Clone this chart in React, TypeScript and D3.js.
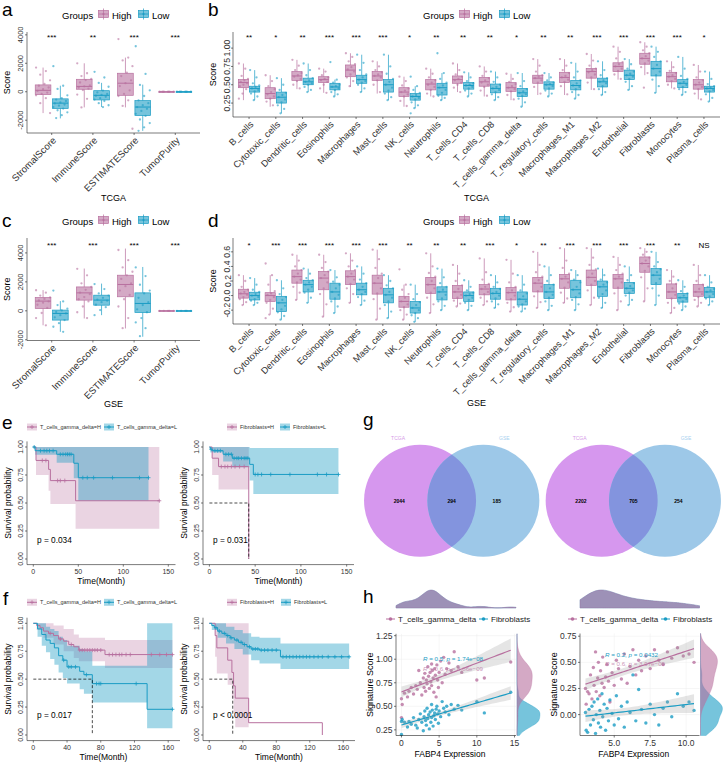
import * as d3 from 'd3'
import { useEffect, useRef } from 'react'

const HIGH = '#b8709f'
const LOW = '#1a9cc4'
const FONT = '"Liberation Sans", Arial, Helvetica, sans-serif'

// ---------- ESTIMATE scores (a: TCGA, c: GSE) ----------
const estimateCats = ['StromalScore', 'ImmuneScore', 'ESTIMATEScore', 'TumorPurity']
const estimateTicks = [-2000, 0, 2000, 4000]
// box rows: [lower whisker, q1, median, q3, upper whisker]
const tcgaEstHighBox = [[-1500, -200, 100, 480, 1700], [-1100, 175, 375, 875, 2000], [-1100, -250, 600, 1300, 2400], [0.55, 0.65, 0.72, 0.8, 0.92]]
const tcgaEstLowBox = [[-1875, -1175, -800, -500, 425], [-1075, -575, -250, 75, 625], [-2750, -1675, -1075, -625, 500], [0.6, 0.72, 0.8, 0.88, 0.96]]
const tcgaEstHighPts = [
  [1700, 1450, 1200, 800, 550, 420, 300, 180, 60, -60, -150, -250, -450, -800, -1500],
  [2000, 1300, 1100, 900, 820, 650, 450, 380, 300, 220, 120, -200, -500, -1100],
  [3700, 2400, 2200, 1800, 1350, 1100, 800, 600, 400, 100, -150, -300, -600, -1000, -2600],
  [0.55, 0.62, 0.7, 0.76, 0.82, 0.9],
]
const tcgaEstLowPts = [
  [1800, 420, 200, -250, -450, -550, -650, -750, -820, -900, -980, -1080, -1180, -1300, -1450, -1650, -1850],
  [1400, 1000, 620, 350, 80, -50, -150, -220, -280, -350, -450, -550, -650, -800, -950, -1080],
  [3200, 1250, 480, 100, -300, -600, -800, -950, -1080, -1200, -1350, -1550, -1700, -1950, -2200, -2500, -2750],
  [0.6, 0.68, 0.75, 0.82, 0.88, 0.95],
]
const tcgaEstSig = ['***', '**', '***', '***']

const gseEstHighBox = [[-1000, 160, 670, 920, 1430], [-530, 740, 1240, 1650, 2920], [-1220, 970, 1820, 2460, 4300], [0.55, 0.65, 0.72, 0.8, 0.92]]
const gseEstLowBox = [[-1450, -640, -180, 50, 670], [-300, 390, 740, 1080, 1880], [-1790, -115, 510, 1240, 3030], [0.6, 0.72, 0.8, 0.88, 0.96]]
const gseEstHighPts = [
  [1420, 1250, 1050, 920, 820, 720, 650, 560, 420, 200, -150, -500, -1000],
  [2900, 2450, 1900, 1650, 1450, 1250, 1150, 950, 800, 650, 300, -100, -500],
  [4200, 3500, 3000, 2700, 2450, 2200, 1900, 1700, 1400, 1100, 800, 300, -500, -1200],
  [0.6, 0.68, 0.75, 0.82, 0.88],
]
const gseEstLowPts = [
  [1400, 650, 400, 150, 30, -80, -180, -300, -450, -640, -850, -1100, -1450],
  [1850, 1500, 1200, 1050, 900, 780, 700, 600, 420, 250, 50, -300],
  [3000, 2400, 1800, 1400, 1200, 900, 600, 400, 100, -100, -500, -800, -1200, -1750],
  [0.6, 0.68, 0.75, 0.82, 0.88],
]
const gseEstSig = ['***', '***', '***', '***']

// ---------- immune cell signatures (b: TCGA, d: GSE) ----------
const cellCats = ['B_cells', 'Cytotoxic_cells', 'Dendritic_cells', 'Eosinophils', 'Macrophages', 'Mast_cells', 'NK_cells', 'Neutrophils', 'T_cells_CD4', 'T_cells_CD8', 'T_cells_gamma_delta', 'T_regulatory_cells', 'Macrophages_M1', 'Macrophages_M2', 'Endothelial', 'Fibroblasts', 'Monocytes', 'Plasma_cells']

const tcgaCellHighBox = [
  [0.29, 0.46, 0.53, 0.57, 0.79], [0.2, 0.31, 0.38, 0.46, 0.63], [0.44, 0.56, 0.62, 0.68, 0.84], [0.39, 0.53, 0.57, 0.61, 0.72],
  [0.47, 0.61, 0.7, 0.77, 0.93], [0.38, 0.56, 0.62, 0.68, 0.82], [0.2, 0.34, 0.4, 0.46, 0.61], [0.34, 0.43, 0.51, 0.57, 0.72],
  [0.4, 0.52, 0.57, 0.62, 0.79], [0.34, 0.48, 0.54, 0.6, 0.75], [0.29, 0.41, 0.46, 0.53, 0.65], [0.36, 0.52, 0.59, 0.63, 0.85],
  [0.36, 0.53, 0.6, 0.67, 0.85], [0.43, 0.59, 0.68, 0.72, 0.92], [0.57, 0.68, 0.75, 0.8, 1.02], [0.63, 0.78, 0.86, 0.93, 1.08],
  [0.45, 0.54, 0.61, 0.67, 0.82], [0.3, 0.44, 0.5, 0.57, 0.77],
]
const tcgaCellLowBox = [
  [0.29, 0.4, 0.45, 0.48, 0.7], [0.11, 0.25, 0.33, 0.4, 0.59], [0.4, 0.5, 0.54, 0.59, 0.79], [0.34, 0.43, 0.47, 0.52, 0.57],
  [0.4, 0.52, 0.57, 0.63, 0.91], [0.29, 0.4, 0.5, 0.57, 0.91], [0.18, 0.29, 0.34, 0.38, 0.48], [0.29, 0.36, 0.46, 0.52, 0.66],
  [0.34, 0.44, 0.49, 0.53, 0.67], [0.29, 0.39, 0.45, 0.51, 0.68], [0.2, 0.34, 0.39, 0.45, 0.66], [0.34, 0.44, 0.5, 0.54, 0.66],
  [0.31, 0.43, 0.49, 0.56, 0.8], [0.36, 0.47, 0.54, 0.59, 0.82], [0.43, 0.57, 0.63, 0.7, 0.85], [0.39, 0.62, 0.72, 0.82, 1.02],
  [0.36, 0.46, 0.52, 0.57, 0.88], [0.27, 0.4, 0.45, 0.48, 0.68],
]
const tcgaCellHighPts = [
  [0.79, 0.72, 0.62, 0.58, 0.56, 0.54, 0.52, 0.5, 0.48, 0.44, 0.38, 0.31],
  [0.63, 0.55, 0.48, 0.44, 0.4, 0.37, 0.34, 0.31, 0.27, 0.22],
  [0.84, 0.76, 0.7, 0.66, 0.63, 0.61, 0.58, 0.55, 0.5, 0.45],
  [0.72, 0.68, 0.63, 0.6, 0.58, 0.56, 0.54, 0.5, 0.45, 0.39],
  [0.93, 0.88, 0.82, 0.78, 0.74, 0.71, 0.68, 0.64, 0.6, 0.55, 0.48],
  [0.82, 0.75, 0.7, 0.67, 0.64, 0.62, 0.6, 0.56, 0.5, 0.4],
  [0.61, 0.55, 0.49, 0.45, 0.42, 0.4, 0.37, 0.34, 0.28, 0.21],
  [0.72, 0.65, 0.6, 0.56, 0.53, 0.5, 0.47, 0.43, 0.38, 0.34],
  [0.79, 0.7, 0.64, 0.61, 0.58, 0.56, 0.53, 0.5, 0.46, 0.4],
  [0.75, 0.68, 0.62, 0.59, 0.56, 0.53, 0.5, 0.47, 0.42, 0.35],
  [0.65, 0.58, 0.54, 0.51, 0.48, 0.46, 0.44, 0.41, 0.36, 0.3],
  [0.85, 0.76, 0.68, 0.63, 0.61, 0.59, 0.56, 0.53, 0.47, 0.38],
  [0.85, 0.76, 0.7, 0.66, 0.62, 0.6, 0.57, 0.54, 0.48, 0.37],
  [0.92, 0.83, 0.76, 0.72, 0.7, 0.67, 0.64, 0.6, 0.53, 0.44],
  [1.02, 0.95, 0.86, 0.81, 0.78, 0.75, 0.72, 0.69, 0.64, 0.58],
  [1.08, 1.02, 0.97, 0.93, 0.89, 0.86, 0.83, 0.79, 0.74, 0.66, 0.46],
  [0.82, 0.74, 0.69, 0.66, 0.63, 0.61, 0.58, 0.55, 0.5, 0.45],
  [0.77, 0.68, 0.6, 0.56, 0.53, 0.5, 0.47, 0.44, 0.38, 0.3],
]
const tcgaCellLowPts = [
  [0.7, 0.6, 0.52, 0.49, 0.47, 0.45, 0.43, 0.41, 0.38, 0.34, 0.29],
  [0.59, 0.5, 0.43, 0.39, 0.36, 0.33, 0.3, 0.26, 0.22, 0.17, 0.11],
  [0.79, 0.7, 0.63, 0.59, 0.56, 0.54, 0.52, 0.5, 0.47, 0.43, 0.4],
  [0.81, 0.57, 0.53, 0.5, 0.48, 0.47, 0.45, 0.43, 0.4, 0.37, 0.34],
  [0.91, 0.8, 0.7, 0.64, 0.6, 0.57, 0.55, 0.53, 0.5, 0.45, 0.4],
  [0.91, 0.75, 0.65, 0.58, 0.54, 0.5, 0.46, 0.42, 0.38, 0.33, 0.29],
  [0.61, 0.48, 0.43, 0.39, 0.36, 0.34, 0.32, 0.3, 0.26, 0.22, 0.18, 0.11],
  [0.93, 0.66, 0.58, 0.53, 0.49, 0.46, 0.43, 0.39, 0.35, 0.32, 0.29],
  [0.67, 0.6, 0.55, 0.52, 0.5, 0.49, 0.47, 0.45, 0.42, 0.38, 0.34],
  [0.68, 0.6, 0.54, 0.5, 0.47, 0.45, 0.43, 0.4, 0.37, 0.33, 0.29],
  [0.66, 0.55, 0.48, 0.44, 0.41, 0.39, 0.37, 0.35, 0.31, 0.26, 0.2],
  [0.66, 0.6, 0.56, 0.53, 0.51, 0.5, 0.48, 0.45, 0.42, 0.38, 0.34],
  [0.8, 0.68, 0.6, 0.56, 0.52, 0.49, 0.47, 0.44, 0.4, 0.36, 0.31],
  [0.82, 0.7, 0.63, 0.59, 0.56, 0.54, 0.52, 0.48, 0.44, 0.4, 0.36],
  [0.85, 0.78, 0.72, 0.68, 0.65, 0.63, 0.61, 0.58, 0.54, 0.48, 0.43],
  [1.02, 0.95, 0.88, 0.82, 0.77, 0.72, 0.68, 0.63, 0.57, 0.48, 0.39],
  [0.88, 0.72, 0.62, 0.58, 0.54, 0.52, 0.5, 0.47, 0.44, 0.4, 0.36],
  [0.68, 0.58, 0.51, 0.48, 0.46, 0.45, 0.43, 0.41, 0.37, 0.32, 0.27],
]
const tcgaCellSig = ['**', '*', '**', '***', '***', '***', '*', '**', '**', '**', '*', '**', '**', '***', '***', '***', '***', '*']

const gseCellHighBox = [
  [-0.13, -0.035, 0.025, 0.087, 0.28], [-0.26, -0.08, 0.0, 0.04, 0.28], [-0.06, 0.17, 0.26, 0.35, 0.56], [-0.29, 0.08, 0.24, 0.33, 0.56],
  [-0.1, 0.15, 0.26, 0.34, 0.58], [-0.33, 0.02, 0.17, 0.28, 0.63], [-0.33, -0.16, -0.08, -0.01, 0.15], [-0.24, 0.03, 0.15, 0.25, 0.58],
  [-0.15, -0.04, 0.05, 0.14, 0.42], [-0.13, 0.01, 0.09, 0.15, 0.51], [-0.22, -0.06, 0.04, 0.11, 0.49], [-0.17, 0.05, 0.17, 0.25, 0.6],
  [-0.1, 0.1, 0.23, 0.29, 0.65], [-0.13, 0.14, 0.25, 0.35, 0.65], [-0.2, 0.1, 0.23, 0.29, 0.53], [-0.08, 0.32, 0.44, 0.53, 0.65],
  [-0.24, -0.04, 0.05, 0.16, 0.35], [-0.15, -0.01, 0.05, 0.15, 0.42],
]
const gseCellLowBox = [
  [-0.13, -0.06, 0.0, 0.046, 0.24], [-0.33, -0.22, -0.1, -0.01, 0.21], [-0.1, 0.05, 0.15, 0.21, 0.37], [-0.24, -0.05, 0.05, 0.17, 0.35],
  [-0.13, 0.01, 0.08, 0.17, 0.4], [-0.31, -0.1, 0.01, 0.1, 0.28], [-0.36, -0.24, -0.17, -0.08, 0.15], [-0.2, -0.06, 0.05, 0.12, 0.37],
  [-0.2, -0.08, 0.0, 0.05, 0.21], [-0.17, -0.05, 0.03, 0.1, 0.28], [-0.22, -0.13, -0.05, 0.05, 0.28], [-0.2, -0.04, 0.05, 0.15, 0.4],
  [-0.2, -0.03, 0.08, 0.21, 0.35], [-0.17, -0.01, 0.12, 0.2, 0.37], [-0.13, 0.03, 0.1, 0.18, 0.4], [-0.13, 0.15, 0.28, 0.37, 0.6],
  [-0.2, -0.09, -0.03, 0.03, 0.21], [-0.13, -0.03, 0.05, 0.11, 0.28],
]
const gseCellHighPts = [
  [0.28, 0.2, 0.12, 0.08, 0.05, 0.03, 0.01, -0.02, -0.05, -0.09, -0.13],
  [0.44, 0.28, 0.15, 0.06, 0.03, 0.01, -0.02, -0.06, -0.1, -0.18, -0.26, -0.31],
  [0.56, 0.48, 0.4, 0.35, 0.3, 0.26, 0.22, 0.18, 0.12, 0.04, -0.06],
  [0.56, 0.46, 0.38, 0.33, 0.28, 0.24, 0.18, 0.1, 0.02, -0.12, -0.29],
  [0.58, 0.48, 0.4, 0.35, 0.3, 0.26, 0.22, 0.16, 0.1, 0.02, -0.1],
  [0.63, 0.5, 0.38, 0.3, 0.24, 0.17, 0.1, 0.03, -0.05, -0.18, -0.33],
  [0.36, 0.15, 0.08, 0.02, -0.03, -0.08, -0.12, -0.16, -0.2, -0.26, -0.33],
  [0.58, 0.4, 0.31, 0.26, 0.2, 0.15, 0.1, 0.04, -0.03, -0.12, -0.24],
  [0.42, 0.3, 0.2, 0.14, 0.09, 0.05, 0.01, -0.03, -0.07, -0.11, -0.15],
  [0.51, 0.32, 0.22, 0.16, 0.12, 0.09, 0.05, 0.02, -0.03, -0.08, -0.13],
  [0.49, 0.3, 0.18, 0.12, 0.07, 0.04, 0.0, -0.05, -0.1, -0.16, -0.22],
  [0.6, 0.42, 0.32, 0.26, 0.21, 0.17, 0.12, 0.06, -0.01, -0.09, -0.17],
  [0.65, 0.48, 0.38, 0.3, 0.26, 0.23, 0.18, 0.11, 0.04, -0.04, -0.1],
  [0.65, 0.52, 0.42, 0.36, 0.3, 0.25, 0.2, 0.15, 0.07, -0.03, -0.13],
  [0.53, 0.42, 0.35, 0.3, 0.26, 0.23, 0.18, 0.11, 0.03, -0.08, -0.2],
  [0.65, 0.6, 0.56, 0.52, 0.48, 0.44, 0.4, 0.34, 0.25, 0.1, -0.08],
  [0.35, 0.26, 0.2, 0.16, 0.1, 0.05, 0.01, -0.04, -0.1, -0.17, -0.24],
  [0.42, 0.28, 0.2, 0.15, 0.09, 0.05, 0.02, -0.02, -0.06, -0.1, -0.15],
]
const gseCellLowPts = [
  [0.24, 0.15, 0.08, 0.05, 0.02, 0.0, -0.02, -0.05, -0.07, -0.1, -0.13],
  [0.21, 0.1, 0.02, -0.02, -0.06, -0.1, -0.14, -0.19, -0.23, -0.28, -0.33],
  [0.37, 0.3, 0.24, 0.21, 0.18, 0.15, 0.12, 0.08, 0.04, -0.03, -0.1],
  [0.35, 0.25, 0.19, 0.15, 0.1, 0.05, 0.01, -0.04, -0.08, -0.15, -0.24],
  [0.4, 0.3, 0.22, 0.17, 0.12, 0.08, 0.05, 0.02, -0.02, -0.07, -0.13],
  [0.28, 0.2, 0.14, 0.1, 0.05, 0.01, -0.03, -0.08, -0.13, -0.22, -0.31],
  [0.15, 0.02, -0.05, -0.09, -0.13, -0.17, -0.2, -0.24, -0.27, -0.31, -0.36],
  [0.37, 0.25, 0.17, 0.12, 0.08, 0.05, 0.01, -0.04, -0.08, -0.14, -0.2],
  [0.21, 0.12, 0.07, 0.04, 0.02, 0.0, -0.03, -0.06, -0.1, -0.14, -0.2],
  [0.28, 0.18, 0.12, 0.09, 0.05, 0.03, 0.0, -0.04, -0.08, -0.12, -0.17],
  [0.28, 0.15, 0.07, 0.03, -0.01, -0.05, -0.08, -0.12, -0.15, -0.18, -0.22],
  [0.4, 0.28, 0.2, 0.15, 0.1, 0.05, 0.01, -0.03, -0.08, -0.14, -0.2],
  [0.35, 0.28, 0.22, 0.18, 0.12, 0.08, 0.03, -0.02, -0.06, -0.12, -0.2],
  [0.37, 0.28, 0.22, 0.18, 0.15, 0.12, 0.07, 0.02, -0.03, -0.1, -0.17],
  [0.4, 0.28, 0.21, 0.17, 0.13, 0.1, 0.07, 0.04, 0.0, -0.06, -0.13],
  [0.6, 0.46, 0.4, 0.36, 0.32, 0.28, 0.23, 0.17, 0.1, 0.0, -0.13],
  [0.21, 0.12, 0.06, 0.03, 0.0, -0.03, -0.05, -0.08, -0.11, -0.15, -0.2],
  [0.28, 0.18, 0.12, 0.09, 0.07, 0.05, 0.02, -0.01, -0.04, -0.08, -0.13],
]
const gseCellSig = ['*', '***', '***', '***', '***', '***', '**', '**', '**', '***', '*', '**', '***', '***', '***', '***', '**', 'NS']

// ---------- survival (e, f): steps [month, survival], bands [month, lower, upper] ----------
const eTgdHighSurv = [[0, 1], [3, 0.88], [17, 0.8], [19, 0.7], [47, 0.52], [140, 0.52]]
const eTgdHighBand = [[0, 1, 1], [3, 0.75, 1], [17, 0.61, 1], [19, 0.49, 1], [47, 0.27, 1], [140, 0.27, 1]]
const eTgdHighCens = [10, 14, 27, 30, 35, 140]
const eTgdLowSurv = [[0, 1], [2, 0.967], [26, 0.935], [45, 0.855], [50, 0.726], [128, 0.726]]
const eTgdLowBand = [[0, 1, 1], [2, 0.93, 1], [26, 0.86, 1], [45, 0.72, 1], [50, 0.52, 1], [128, 0.52, 1]]
const eTgdLowCens = [1, 8, 12, 15, 18, 22, 30, 33, 36, 38, 40, 42, 55, 60, 67, 88, 118, 128]

const eFibHighSurv = [[0, 1], [3, 0.9], [10, 0.825], [43, 0]]
const eFibHighBand = [[0, 1, 1], [3, 0.75, 1], [10, 0.62, 1], [43, 0.62, 1]]
const eFibHighCens = [13, 17, 20, 24, 28, 33, 38]
const eFibLowSurv = [[0, 1], [1, 0.98], [3, 0.967], [15, 0.935], [25, 0.9], [44, 0.845], [48, 0.755], [141, 0.755]]
const eFibLowBand = [[0, 1, 1], [1, 0.95, 1], [15, 0.87, 1], [25, 0.82, 1], [44, 0.7, 0.99], [48, 0.58, 0.99], [141, 0.58, 0.99]]
const eFibLowCens = [2, 6, 9, 12, 18, 21, 24, 27, 30, 32, 35, 38, 40, 42, 50, 53, 57, 67, 88, 118, 128, 141]

const fTgdHighSurv = [[0, 1], [4, 0.98], [8, 0.96], [12, 0.93], [18, 0.91], [24, 0.89], [30, 0.86], [36, 0.84], [42, 0.81], [48, 0.79], [54, 0.76], [85, 0.72], [165, 0.72]]
const fTgdHighBand = [[0, 1, 1], [4, 0.94, 1], [12, 0.87, 1], [24, 0.81, 0.98], [36, 0.75, 0.95], [48, 0.69, 0.9], [54, 0.66, 0.87], [85, 0.6, 0.85], [165, 0.6, 0.85]]
const fTgdHighCens = [20, 32, 45, 55, 58, 61, 64, 67, 70, 73, 76, 80, 90, 94, 98, 102, 105, 110, 115, 140, 150, 158, 165]
const fTgdLowSurv = [[0, 1], [5, 0.95], [10, 0.9], [15, 0.85], [20, 0.82], [25, 0.78], [30, 0.71], [35, 0.67], [40, 0.61], [55, 0.57], [60, 0.54], [70, 0.46], [135, 0.23], [165, 0.23]]
const fTgdLowBand = [[0, 1, 1], [5, 0.88, 1], [10, 0.8, 1], [15, 0.74, 0.97], [20, 0.68, 0.95], [25, 0.63, 0.93], [30, 0.56, 0.88], [35, 0.51, 0.85], [40, 0.46, 0.8], [55, 0.41, 0.77], [60, 0.37, 0.75], [70, 0.29, 0.62], [135, 0.06, 1], [165, 0.06, 1]]
const fTgdLowCens = [36, 42, 45, 50, 63, 75, 78, 80, 122, 165]

const fFibHighSurv = [[0, 1], [7, 0.89], [9, 0.78], [22, 0.67], [27, 0.56], [29, 0.44], [31, 0.33], [47, 0.11], [135, 0]]
const fFibHighBand = [[0, 1, 1], [7, 0.7, 1], [9, 0.55, 1], [22, 0.45, 1], [27, 0.33, 1], [29, 0.2, 1], [31, 0.07, 1], [47, 0.07, 1]]
const fFibHighCens: number[] = []
const fFibLowSurv = [[0, 1], [3, 0.98], [6, 0.96], [10, 0.93], [15, 0.91], [20, 0.89], [25, 0.87], [30, 0.85], [35, 0.83], [40, 0.81], [45, 0.79], [50, 0.77], [60, 0.76], [85, 0.7], [167, 0.7]]
const fFibLowBand = [[0, 1, 1], [3, 0.94, 1], [10, 0.87, 1], [20, 0.82, 0.97], [30, 0.77, 0.94], [40, 0.72, 0.91], [50, 0.67, 0.88], [60, 0.64, 0.87], [85, 0.59, 0.82], [167, 0.59, 0.82]]
const fFibLowCens = [8, 12, 18, 22, 26, 33, 38, 42, 48, 52, 55, 58, 62, 66, 70, 75, 80, 88, 92, 96, 100, 104, 108, 112, 116, 120, 125, 130, 135, 142, 150, 158, 167]

// ---------- overlap counts (g): [TCGA only, both, GSE only] ----------
const vennSetNames = ['TCGA', 'GSE']
const vennLeftCounts = [2044, 294, 185]
const vennRightCounts = [2202, 705, 254]

// ---------- FABP4 vs signature scores (h): [FABP4, T_cells_gamma_delta, Fibroblasts] ----------
const scatterLeftRows = [
  [0, 0.58, 0.34], [0, 0.38, 0.2], [0.1, 0.52, 0.36], [0.4, 0.64, 0.33], [0.8, 0.6, 0.28], [1.0, 0.66, 0.34], [1.3, 0.7, 0.31],
  [1.6, 0.63, 0.38], [1.9, 0.72, 0.3], [2.1, 0.68, 0.27], [2.3, 0.88, 0.36], [2.5, 0.75, 0.42], [2.7, 0.62, 0.33], [2.9, 0.8, 0.24],
  [3.0, 0.7, 0.39], [3.1, 0.85, 0.45], [3.2, 0.66, 0.35], [3.3, 0.78, 0.3], [3.4, 0.74, 0.48], [3.5, 0.92, 0.37], [3.6, 0.82, 0.41],
  [3.7, 0.69, 0.26], [3.8, 0.86, 0.44], [3.9, 0.76, 0.33], [4.0, 0.95, 0.52], [4.0, 0.72, 0.38], [4.1, 0.88, 0.46], [4.2, 0.8, 0.29],
  [4.3, 0.65, 0.4], [4.4, 0.9, 0.43], [4.5, 0.83, 0.36], [4.6, 0.6, 0.47], [4.7, 0.94, 0.5], [4.8, 0.78, 0.42], [4.9, 0.7, 0.32],
  [5.0, 0.86, 0.45], [5.2, 0.98, 0.39], [5.4, 0.75, 0.55], [5.6, 1.02, 0.48], [5.8, 0.84, 0.44], [6.0, 0.9, 0.5], [6.3, 0.96, 0.41],
  [6.6, 0.88, 0.52], [7.0, 1.08, 0.47], [7.5, 0.92, 0.51], [8.0, 0.86, 0.46], [10.0, 0.78, 0.55], [11.0, 0.8, 0.43], [14.5, 0.97, 0.65],
]
const scatterRightRows = [
  [3.0, 0.25, 0.02], [3.05, 0.1, -0.15], [3.15, 0.22, -0.17], [3.25, 0.2, 0.05], [3.35, 0.38, -0.1], [3.45, 0.15, 0.08], [3.55, 0.45, -0.05],
  [3.6, 0.28, 0.12], [3.7, 0.6, -0.18], [3.75, 0.22, 0.0], [3.85, 0.35, 0.15], [3.9, 0.5, -0.08], [4.0, 0.18, 0.04], [4.05, 0.42, -0.12],
  [4.15, 0.3, 0.2], [4.2, 0.55, -0.02], [4.3, 0.26, 0.1], [4.4, 0.36, -0.15], [4.5, 0.48, 0.06], [4.6, 0.32, -0.06], [4.7, 0.12, 0.14],
  [4.85, 0.4, 0.01], [5.0, 0.28, -0.1], [5.15, 0.52, 0.18], [5.3, 0.44, -0.04], [5.5, 0.34, 0.08], [5.7, 0.58, -0.12], [5.9, 0.3, 0.12],
  [6.1, 0.46, 0.02], [6.3, 0.62, 0.38], [6.5, 0.38, -0.06], [6.7, 0.52, 0.24], [6.9, 0.42, 0.05], [7.2, 0.56, -0.08], [7.5, 0.44, 0.1],
  [7.8, 0.62, 0.0], [8.1, 0.52, -0.1], [8.4, 0.48, 0.06], [8.7, 0.6, 0.12], [9.0, 0.54, -0.02], [9.4, 0.64, 0.2], [9.8, 0.56, 0.08],
  [10.2, 0.58, 0.12], [10.55, 0.5, 0.04],
]
const scatterGroups = ['T_cells_gamma_delta', 'Fibroblasts']
const scatterLeftStats = ['R = 0.6, p = 8.86e\u221209', 'R = 0.5, p = 1.74e\u221208']
const scatterRightStats = ['R = 0.6, p = 3.97e\u221209', 'R = 0.2, p = 0.0432']

// ---------------------------------------------------------------

function txt(g: any, x: number, y: number, s: string, size: number, opts: any = {}) {
  const t = g.append('text').attr('x', x).attr('y', y).attr('font-size', size).attr('font-family', FONT)
    .attr('fill', opts.fill || '#000').attr('text-anchor', opts.anchor || 'start').text(s)
  if (opts.rotate !== undefined) t.attr('transform', `rotate(${opts.rotate},${x},${y})`)
  if (opts.weight) t.attr('font-weight', opts.weight)
  return t
}

function groupsLegend(svg: any, x: number, y: number) {
  const g = svg.append('g')
  txt(g, x, y, 'Groups', 9.5)
  ;[[HIGH, 'High', 35], [LOW, 'Low', 75]].forEach(([c, lab, dx]: any) => {
    const kx = x + dx
    g.append('line').attr('x1', kx + 6.5).attr('x2', kx + 6.5).attr('y1', y - 10).attr('y2', y + 1).attr('stroke', c).attr('stroke-width', 0.7)
    g.append('rect').attr('x', kx + 1.5).attr('y', y - 8).attr('width', 10).attr('height', 7)
      .attr('fill', c).attr('fill-opacity', 0.6).attr('stroke', c).attr('stroke-width', 0.7)
    g.append('line').attr('x1', kx + 1.5).attr('x2', kx + 11.5).attr('y1', y - 4.5).attr('y2', y - 4.5).attr('stroke', c).attr('stroke-width', 0.8)
    g.append('circle').attr('cx', kx + 6.5).attr('cy', y - 4.5).attr('r', 1.1).attr('fill', c)
    txt(g, kx + 15, y, lab, 9.5)
  })
}

function boxPanel(svg: any, p: any) {
  const x = d3.scalePoint<string>().domain(p.cats).range([p.x0, p.x1]).padding(0.6)
  const step = x.step()
  const y = d3.scaleLinear().domain(p.domain).range([p.yBot, p.yTop])
  const g = svg.append('g')
  const bw = step * 0.38
  const sets = [
    { box: p.hiBox, pts: p.hiPts, color: HIGH, off: -0.21 },
    { box: p.loBox, pts: p.loPts, color: LOW, off: 0.21 },
  ]
  sets.forEach((s) => {
    p.cats.forEach((c: string, i: number) => {
      const cx = (x(c) as number) + s.off * step
      const [lo, q1, md, q3, hi] = s.box[i]
      g.append('line').attr('x1', cx).attr('x2', cx).attr('y1', y(hi)).attr('y2', y(q3)).attr('stroke', s.color).attr('stroke-width', 0.7)
      g.append('line').attr('x1', cx).attr('x2', cx).attr('y1', y(q1)).attr('y2', y(lo)).attr('stroke', s.color).attr('stroke-width', 0.7)
      g.append('rect').attr('x', cx - bw / 2).attr('y', y(q3)).attr('width', bw).attr('height', Math.max(0.6, y(q1) - y(q3)))
        .attr('fill', s.color).attr('fill-opacity', 0.6).attr('stroke', s.color).attr('stroke-width', 0.7)
      g.append('line').attr('x1', cx - bw / 2).attr('x2', cx + bw / 2).attr('y1', y(md)).attr('y2', y(md)).attr('stroke', s.color).attr('stroke-width', 1)
    })
  })
  sets.forEach((s) => {
    p.cats.forEach((c: string, i: number) => {
      const cx = (x(c) as number) + s.off * step
      s.pts[i].forEach((v: number, k: number) => {
        const jit = ((k * 7) % 11) / 10 - 0.5
        g.append('circle').attr('cx', cx + jit * step * 0.34).attr('cy', y(v)).attr('r', 1.15)
          .attr('fill', s.color).attr('fill-opacity', 0.6)
      })
    })
  })

  // axes
  const ax = svg.append('g')
  ax.append('line').attr('x1', p.x0).attr('x2', p.x0).attr('y1', p.yTop).attr('y2', p.yBot).attr('stroke', '#222').attr('stroke-width', 0.6)
  ax.append('line').attr('x1', p.x0).attr('x2', p.x1).attr('y1', p.yBot).attr('y2', p.yBot).attr('stroke', '#222').attr('stroke-width', 0.6)
  p.ticks.forEach((t: number) => {
    ax.append('line').attr('x1', p.x0 - 2).attr('x2', p.x0).attr('y1', y(t)).attr('y2', y(t)).attr('stroke', '#222').attr('stroke-width', 0.6)
    txt(ax, p.x0 - p.tickGap, y(t), p.fmt(t), p.ySize, { anchor: 'middle', rotate: -90, fill: '#333' })
  })
  p.cats.forEach((c: string, i: number) => {
    const cx = x(c) as number
    ax.append('line').attr('x1', cx).attr('x2', cx).attr('y1', p.yBot).attr('y2', p.yBot + 2).attr('stroke', '#222').attr('stroke-width', 0.6)
    const t = txt(ax, cx + 3, p.yBot + 6, c, p.xSize, { anchor: 'end', rotate: -45, fill: '#333' })
    t.attr('dy', '0.3em')
    txt(ax, cx, p.sigY, p.sig[i], 8, { anchor: 'middle' })
  })
  txt(ax, p.labelX, (p.yTop + p.yBot) / 2, 'Score', 9, { anchor: 'middle', rotate: -90 })
  txt(ax, (p.x0 + p.x1) / 2, p.titleY, p.title, 9, { anchor: 'middle' })
}

function survAt(surv: number[][], t: number) {
  let v = surv[0][1]
  surv.forEach(([tt, s]) => { if (tt <= t) v = s })
  return v
}

function kmPanel(svg: any, p: any) {
  const x = d3.scaleLinear().domain(p.tDomain).range([p.x0, p.x1])
  const y = d3.scaleLinear().domain([0, 1]).range([p.y0, p.y1])
  const g = svg.append('g')
  const area = d3.area<number[]>().x((d) => x(d[0])).y0((d) => y(d[1])).y1((d) => y(d[2])).curve(d3.curveStepAfter)
  const line = d3.line<number[]>().x((d) => x(d[0])).y((d) => y(d[1])).curve(d3.curveStepAfter)
  p.curves.forEach((c: any) => {
    g.append('path').attr('d', area(c.band)).attr('fill', c.color).attr('fill-opacity', c.alpha)
  })
  p.curves.forEach((c: any) => {
    g.append('path').attr('d', line(c.surv)).attr('fill', 'none').attr('stroke', c.color).attr('stroke-width', 1)
    c.cens.forEach((t: number) => {
      const cx = x(t), cy = y(survAt(c.surv, t))
      g.append('path').attr('d', `M${cx - 2},${cy}H${cx + 2}M${cx},${cy - 2}V${cy + 2}`).attr('stroke', c.color).attr('stroke-width', 0.8)
    })
  })
  if (p.median !== null) {
    g.append('path').attr('d', `M${x(0)},${y(0.5)}H${x(p.median)}V${y(0)}`).attr('fill', 'none')
      .attr('stroke', '#000').attr('stroke-width', 0.7).attr('stroke-dasharray', '3,2')
  }
  // axes
  const yLo = y(-0.05), yHi = y(1.05)
  g.append('line').attr('x1', p.x0).attr('x2', p.x0).attr('y1', yHi).attr('y2', yLo).attr('stroke', '#222').attr('stroke-width', 0.6)
  g.append('line').attr('x1', p.x0).attr('x2', p.x1).attr('y1', yLo).attr('y2', yLo).attr('stroke', '#222').attr('stroke-width', 0.6)
  ;[0, 0.25, 0.5, 0.75, 1].forEach((t) => {
    g.append('line').attr('x1', p.x0 - 2).attr('x2', p.x0).attr('y1', y(t)).attr('y2', y(t)).attr('stroke', '#222').attr('stroke-width', 0.6)
    txt(g, p.x0 - 4, y(t), d3.format('.2f')(t), 7, { anchor: 'middle', rotate: -90, fill: '#333' })
  })
  p.tTicks.forEach((t: number) => {
    g.append('line').attr('x1', x(t)).attr('x2', x(t)).attr('y1', yLo).attr('y2', yLo + 2).attr('stroke', '#222').attr('stroke-width', 0.6)
    txt(g, x(t), yLo + 9.5, String(t), 7, { anchor: 'middle', fill: '#333' })
  })
  txt(g, p.x0 - 16, (y(0) + y(1)) / 2, 'Survival probability', 8.5, { anchor: 'middle', rotate: -90 })
  txt(g, (p.x0 + p.x1) / 2, yLo + 19, 'Time(Month)', 8.5, { anchor: 'middle' })
  txt(g, p.x0 + 10, p.pY, p.pText, 8.3)
  // legend
  p.curves.forEach((c: any, i: number) => {
    const kx = p.legX[i], ly = p.legY
    g.append('rect').attr('x', kx).attr('y', ly - 3.5).attr('width', 10).attr('height', 7).attr('fill', c.color).attr('fill-opacity', c.alpha)
    g.append('line').attr('x1', kx).attr('x2', kx + 10).attr('y1', ly).attr('y2', ly).attr('stroke', c.color).attr('stroke-width', 1)
    g.append('path').attr('d', `M${kx + 3},${ly}H${kx + 7}M${kx + 5},${ly - 2}V${ly + 2}`).attr('stroke', c.color).attr('stroke-width', 0.8)
    txt(g, kx + 13, ly + 2, c.label, 5.5, { fill: '#333' })
  })
}

function venn(svg: any, cx: number, cy: number, r: number, d: number, counts: number[]) {
  const id = 'lens' + Math.round(cx)
  const g = svg.append('g')
  const ax = cx - d / 2, bx = cx + d / 2
  g.append('clipPath').attr('id', id).append('circle').attr('cx', ax).attr('cy', cy).attr('r', r)
  g.append('circle').attr('cx', ax).attr('cy', cy).attr('r', r).attr('fill', '#d697ee')
  g.append('circle').attr('cx', bx).attr('cy', cy).attr('r', r).attr('fill', '#9dc8e8')
  g.append('circle').attr('cx', bx).attr('cy', cy).attr('r', r).attr('fill', '#8394de').attr('clip-path', `url(#${id})`)
  txt(g, ax - 22, cy - r - 5, vennSetNames[0], 5, { anchor: 'middle', fill: '#d69be8' })
  txt(g, bx + 21, cy - r - 5, vennSetNames[1], 5, { anchor: 'middle', fill: '#a8d0ef' })
  txt(g, ax - 0.37 * r, cy + 1.8, String(counts[0]), 5, { anchor: 'middle', weight: 'bold' })
  txt(g, cx, cy + 1.8, String(counts[1]), 5, { anchor: 'middle', weight: 'bold' })
  txt(g, bx + 0.24 * r, cy + 1.8, String(counts[2]), 5, { anchor: 'middle', weight: 'bold' })
}

function kde(values: number[], grid: number[]) {
  const s = [...values].sort((a, b) => a - b)
  const iqr = ((d3.quantile(s, 0.75) as number) - (d3.quantile(s, 0.25) as number)) / 1.34
  const bw = 0.9 * Math.min(d3.deviation(s) as number, iqr) * Math.pow(s.length, -0.2)
  return grid.map((t) => [t, (d3.mean(s, (v) => Math.exp(-0.5 * ((t - v) / bw) ** 2)) as number) / (bw * Math.sqrt(2 * Math.PI))])
}

function fit(xs: number[], ys: number[], grid: number[]) {
  const n = xs.length, mx = d3.mean(xs) as number, my = d3.mean(ys) as number
  let sxx = 0, sxy = 0
  xs.forEach((v, i) => { sxx += (v - mx) ** 2; sxy += (v - mx) * (ys[i] - my) })
  const b = sxy / sxx, a = my - b * mx
  let sse = 0
  xs.forEach((v, i) => { sse += (ys[i] - a - b * v) ** 2 })
  const se = Math.sqrt(sse / (n - 2))
  return grid.map((v) => {
    const f = a + b * v, w = 2.01 * se * Math.sqrt(1 / n + (v - mx) ** 2 / sxx)
    return [v, f, f - w, f + w]
  })
}

function scatterPanel(svg: any, p: any) {
  const x = d3.scaleLinear().domain(p.xDomain).range([p.x0, p.x1])
  const y = d3.scaleLinear().domain(p.yDomain).range([p.yBot, p.yTop])
  const g = svg.append('g')
  const colors = [HIGH, LOW]
  const xs = p.rows.map((r: number[]) => r[0])
  // grid
  p.xTicks.forEach((t: number) => g.append('line').attr('x1', x(t)).attr('x2', x(t)).attr('y1', p.yTop).attr('y2', p.yBot).attr('stroke', '#ececec').attr('stroke-width', 0.5))
  p.yTicks.forEach((t: number) => g.append('line').attr('x1', p.x0).attr('x2', p.x1).attr('y1', y(t)).attr('y2', y(t)).attr('stroke', '#ececec').attr('stroke-width', 0.5))

  // marginal densities
  const xGrid = d3.range(61).map((i) => p.xDomain[0] + ((p.xDomain[1] - p.xDomain[0]) * i) / 60)
  const yGrid = d3.range(61).map((i) => p.yDomain[0] + ((p.yDomain[1] - p.yDomain[0]) * i) / 60)
  const topD = kde(xs, xGrid)
  const topMax = d3.max(topD, (d) => d[1]) as number
  const top = d3.area<number[]>().x((d) => x(d[0])).y0(p.topBase).y1((d) => p.topBase - (d[1] / topMax) * 18).curve(d3.curveBasis)
  ;[1, 0].forEach((k) => {
    g.append('path').attr('d', top(topD)).attr('fill', colors[k]).attr('fill-opacity', 0.6)
      .attr('stroke', colors[k]).attr('stroke-opacity', 0.6).attr('stroke-width', 0.5)
  })
  const sideD = [1, 2].map((k) => kde(p.rows.map((r: number[]) => r[k]), yGrid))
  const sideMax = d3.max(sideD.flat(), (d) => d[1]) as number
  const side = d3.area<number[]>().y((d) => y(d[0])).x0(p.sideBase).x1((d) => p.sideBase + (d[1] / sideMax) * p.sideW).curve(d3.curveBasis)
  ;[1, 0].forEach((k) => {
    g.append('path').attr('d', side(sideD[k])).attr('fill', colors[k]).attr('fill-opacity', 0.6)
      .attr('stroke', colors[k]).attr('stroke-opacity', 0.6).attr('stroke-width', 0.5)
  })

  // points, fits
  const lineGrid = d3.range(41).map((i) => (d3.min(xs) as number) + (((d3.max(xs) as number) - (d3.min(xs) as number)) * i) / 40)
  const fits = [1, 2].map((k) => fit(xs, p.rows.map((r: number[]) => r[k]), lineGrid))
  ;[0, 1].forEach((k) => {
    p.rows.forEach((r: number[]) => {
      g.append('circle').attr('cx', x(r[0])).attr('cy', y(r[k + 1])).attr('r', 1.7).attr('fill', colors[k]).attr('fill-opacity', 0.8)
    })
  })
  const band = d3.area<number[]>().x((d) => x(d[0])).y0((d) => y(d[2])).y1((d) => y(d[3]))
  const fl = d3.line<number[]>().x((d) => x(d[0])).y((d) => y(d[1]))
  fits.forEach((f, k) => {
    g.append('path').attr('d', band(f)).attr('fill', '#999').attr('fill-opacity', 0.25)
    g.append('path').attr('d', fl(f)).attr('fill', 'none').attr('stroke', colors[k]).attr('stroke-width', 1.2)
  })
  // correlation labels
  ;[1, 0].forEach((k) => {
    const parts = p.stats[k].split(', ')
    const t = g.append('text').attr('x', p.statX).attr('y', p.statY[k]).attr('font-size', 6.2).attr('font-family', FONT)
      .attr('fill', colors[k]).attr('fill-opacity', k === 0 ? 0.75 : 1)
    t.append('tspan').attr('font-style', 'italic').text('R')
    t.append('tspan').text(parts[0].slice(1) + ', ')
    t.append('tspan').attr('font-style', 'italic').text('p')
    t.append('tspan').text(parts[1].slice(1))
  })

  // axes
  g.append('line').attr('x1', p.x0).attr('x2', p.x0).attr('y1', p.yTop).attr('y2', p.yBot).attr('stroke', '#222').attr('stroke-width', 0.6)
  g.append('line').attr('x1', p.x0).attr('x2', p.x1).attr('y1', p.yBot).attr('y2', p.yBot).attr('stroke', '#222').attr('stroke-width', 0.6)
  p.yTicks.forEach((t: number) => {
    g.append('line').attr('x1', p.x0 - 2).attr('x2', p.x0).attr('y1', y(t)).attr('y2', y(t)).attr('stroke', '#222').attr('stroke-width', 0.6)
    txt(g, p.x0 - 3.5, y(t) + 3, p.fmtY(t), 8.5, { anchor: 'end', fill: '#333' })
  })
  p.xTicks.forEach((t: number) => {
    g.append('line').attr('x1', x(t)).attr('x2', x(t)).attr('y1', p.yBot).attr('y2', p.yBot + 2).attr('stroke', '#222').attr('stroke-width', 0.6)
    txt(g, x(t), p.yBot + 10.5, p.fmtX(t), 8.5, { anchor: 'middle', fill: '#333' })
  })
  txt(g, p.x0 - 23, (p.yTop + p.yBot) / 2, 'Signature Score', 9, { anchor: 'middle', rotate: -90 })
  txt(g, (p.x0 + p.x1) / 2 - 6, p.yBot + 21.5, 'FABP4 Expression', 8.5, { anchor: 'middle' })
  // legend
  scatterGroups.forEach((lab, k) => {
    const kx = p.legX[k], ly = 619
    g.append('line').attr('x1', kx).attr('x2', kx + 9).attr('y1', ly).attr('y2', ly).attr('stroke', colors[k]).attr('stroke-width', 1)
    g.append('circle').attr('cx', kx + 4.5).attr('cy', ly).attr('r', 1.8).attr('fill', colors[k])
    txt(g, kx + 12, ly + 3, lab, 8, { fill: '#222' })
  })
}

export default function App() {
  const ref = useRef<SVGSVGElement>(null)

  useEffect(() => {
    const svg = d3.select(ref.current)
    svg.selectAll('*').remove()
    svg.append('rect').attr('width', 723).attr('height', 763).attr('fill', '#fff')

    const panelLabels: [string, number, number][] = [
      ['a', 2, 15.5], ['b', 208, 15.5], ['c', 2, 227], ['d', 208, 227],
      ['e', 2, 428.5], ['g', 363, 426], ['f', 3, 605], ['h', 363, 603],
    ]
    panelLabels.forEach(([l, x, y]) => txt(svg, x, y, l, 19))

    groupsLegend(svg, 62, 18.5)
    groupsLegend(svg, 423, 18.5)
    groupsLegend(svg, 62, 224.5)
    groupsLegend(svg, 423, 224.5)

    const fmtK = (t: number) => String(t)
    const fmt2 = d3.format('.2f')
    const fmt1 = (t: number) => (t === 0 ? '0.0' : t < 0 ? '-' + Math.abs(t).toFixed(1) : t.toFixed(1))

    boxPanel(svg, {
      cats: estimateCats, hiBox: tcgaEstHighBox, loBox: tcgaEstLowBox, hiPts: tcgaEstHighPts, loPts: tcgaEstLowPts,
      sig: tcgaEstSig, x0: 27, x1: 200, yTop: 32, yBot: 133, domain: [-2900, 4200], ticks: estimateTicks, fmt: fmtK,
      ySize: 7.5, xSize: 9.6, tickGap: 4, sigY: 40, labelX: 9.5, title: 'TCGA', titleY: 201,
    })
    boxPanel(svg, {
      cats: cellCats, hiBox: tcgaCellHighBox, loBox: tcgaCellLowBox, hiPts: tcgaCellHighPts, loPts: tcgaCellLowPts,
      sig: tcgaCellSig, x0: 233, x1: 720, yTop: 32, yBot: 117, domain: [0.06, 1.22], ticks: [0.25, 0.5, 0.75, 1.0], fmt: fmt2,
      ySize: 8.6, xSize: 9.3, tickGap: 2.5, sigY: 40, labelX: 216, title: 'TCGA', titleY: 200.5,
    })
    boxPanel(svg, {
      cats: estimateCats, hiBox: gseEstHighBox, loBox: gseEstLowBox, hiPts: gseEstHighPts, loPts: gseEstLowPts,
      sig: gseEstSig, x0: 27, x1: 200, yTop: 238, yBot: 340.5, domain: [-2050, 5030], ticks: estimateTicks, fmt: fmtK,
      ySize: 7.5, xSize: 9.6, tickGap: 4, sigY: 247.5, labelX: 9.5, title: 'GSE', titleY: 406.5,
    })
    boxPanel(svg, {
      cats: cellCats, hiBox: gseCellHighBox, loBox: gseCellLowBox, hiPts: gseCellHighPts, loPts: gseCellLowPts,
      sig: gseCellSig, x0: 233, x1: 720, yTop: 238, yBot: 324, domain: [-0.39, 0.79], ticks: [-0.2, 0, 0.2, 0.4, 0.6], fmt: fmt1,
      ySize: 8.6, xSize: 9.3, tickGap: 2.5, sigY: 247.5, labelX: 216, title: 'GSE', titleY: 406,
    })

    const tgdCurves = (hs: any, hb: any, hc: any, ls: any, lb: any, lc: any) => [
      { label: 'T_cells_gamma_delta=H', color: HIGH, alpha: 0.3, surv: hs, band: hb, cens: hc },
      { label: 'T_cells_gamma_delta=L', color: LOW, alpha: 0.4, surv: ls, band: lb, cens: lc },
    ]
    const fibCurves = (hs: any, hb: any, hc: any, ls: any, lb: any, lc: any) => [
      { label: 'Fibroblasts=H', color: HIGH, alpha: 0.3, surv: hs, band: hb, cens: hc },
      { label: 'Fibroblasts=L', color: LOW, alpha: 0.4, surv: ls, band: lb, cens: lc },
    ]
    kmPanel(svg, {
      x0: 27, x1: 175.5, tDomain: [-7, 158], y0: 559, y1: 447, tTicks: [0, 50, 100, 150], median: null,
      curves: tgdCurves(eTgdHighSurv, eTgdHighBand, eTgdHighCens, eTgdLowSurv, eTgdLowBand, eTgdLowCens),
      pText: 'p = 0.034', pY: 543, legX: [27, 104], legY: 427,
    })
    kmPanel(svg, {
      x0: 203, x1: 354, tDomain: [-7, 158], y0: 559, y1: 447, tTicks: [0, 50, 100, 150], median: 43,
      curves: fibCurves(eFibHighSurv, eFibHighBand, eFibHighCens, eFibLowSurv, eFibLowBand, eFibLowCens),
      pText: 'p = 0.031', pY: 543, legX: [227, 280], legY: 427,
    })
    kmPanel(svg, {
      x0: 27, x1: 180, tDomain: [-7.5, 174], y0: 735, y1: 623.3, tTicks: [0, 40, 80, 120, 160], median: 70,
      curves: tgdCurves(fTgdHighSurv, fTgdHighBand, fTgdHighCens, fTgdLowSurv, fTgdLowBand, fTgdLowCens),
      pText: 'p = 0.017', pY: 718, legX: [27, 104], legY: 602.3,
    })
    kmPanel(svg, {
      x0: 203, x1: 355, tDomain: [-7.5, 174], y0: 735, y1: 623.3, tTicks: [0, 40, 80, 120, 160], median: 28,
      curves: fibCurves(fFibHighSurv, fFibHighBand, fFibHighCens, fFibLowSurv, fFibLowBand, fFibLowCens),
      pText: 'p < 0.0001', pY: 718, legX: [227, 281], legY: 602.3,
    })

    venn(svg, 451.7, 500.7, 56, 63.3, vennLeftCounts)
    venn(svg, 633.3, 500.7, 56, 63.3, vennRightCounts)

    scatterPanel(svg, {
      rows: scatterLeftRows, x0: 396, x1: 516, yTop: 633.8, yBot: 735.5, xDomain: [-0.725, 15.2], yDomain: [0.19, 1.27],
      xTicks: [0, 5, 10, 15], yTicks: [0.25, 0.5, 0.75, 1.0, 1.25], fmtX: (t: number) => String(t), fmtY: fmt2,
      topBase: 608, sideBase: 517, sideW: 23, stats: scatterLeftStats, statX: 423, statY: [670.5, 661], legX: [386, 479],
    })
    scatterPanel(svg, {
      rows: scatterRightRows, x0: 580, x1: 699.5, yTop: 633.5, yBot: 735.5, xDomain: [2.62, 10.93], yDomain: [-0.2, 0.776],
      xTicks: [5, 7.5, 10], yTicks: [0, 0.25, 0.5, 0.75], fmtX: (t: number) => t.toFixed(1), fmtY: fmt2,
      topBase: 608, sideBase: 700.5, sideW: 22, stats: scatterRightStats, statX: 605, statY: [666, 657], legX: [568, 661],
    })
  }, [])

  return <svg ref={ref} width={723} height={763} style={{ position: 'absolute', left: 0, top: 0, display: 'block' }} />
}
